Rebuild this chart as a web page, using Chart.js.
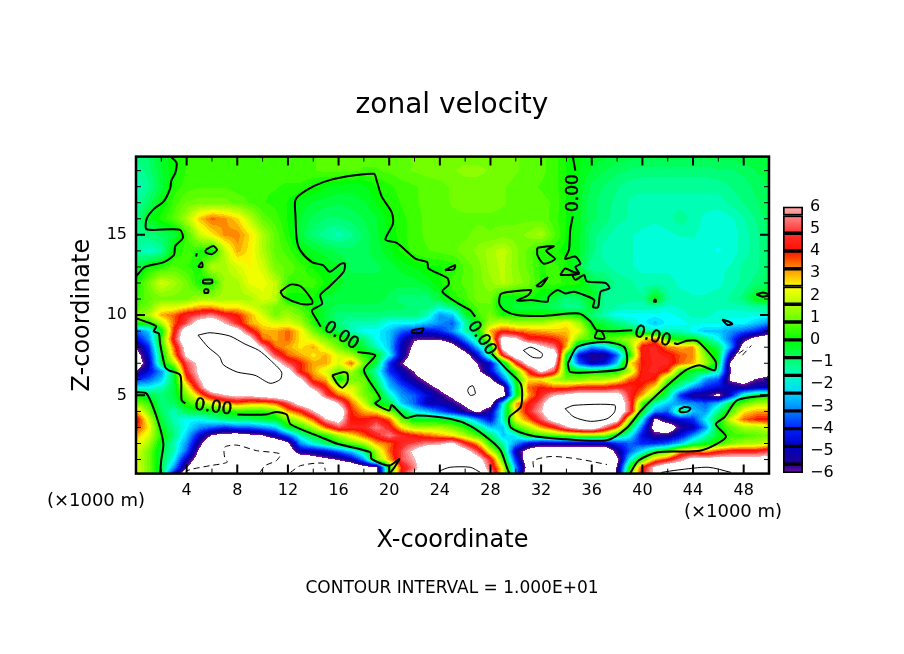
<!DOCTYPE html>
<html>
<head>
<meta charset="utf-8">
<title>zonal velocity</title>
<script src="https://cdn.jsdelivr.net/npm/chart.js@4/dist/chart.umd.min.js"></script>
<style>
  html, body { margin: 0; background: #fff; }
  #wrap { position: relative; width: 904px; height: 654px; overflow: hidden; }
  canvas { position: absolute; display: block; }
</style>
</head>
<body>
<div id="wrap">
  <canvas id="mainChart" width="904" height="654" style="left:0;top:0"></canvas>
  <canvas id="barChart" width="66" height="300" style="left:775px;top:190px"></canvas>
</div>
<script>
// tick labels and levels
const xTicks = [2,4,6,8,10,12,14,16,18,20,22,24,26,28,30,32,34,36,38,40,42,44,46,48];
const zTicks = [1,2,3,4,5,6,7,8,9,10,11,12,13,14,15,16,17,18,19];
const barTicks = [-6,-5,-4,-3,-2,-1,0,1,2,3,4,5,6];
const barLevels = [-6,-5.6,-4.8,-4,-3.2,-2.4,-1.6,-0.8,0,0.8,1.6,2.4,3.2,4,4.8,5.6,6];

// field: x = 0..50 every 1, z listed in zLevels
const zLevels = [0,.5,1,1.5,2,2.5,3,3.5,4,4.5,5,5.5,6,6.5,7,7.5,8,8.5,9,9.5,10,10.5,11,12,13,14,15,16,17,18,19,20];
const fieldRows = [
[2,1,-.5,-5,-8,-8,-8,-8,-8,-8, -8,-8,-8,-8,-8,-8,-8,-8,-8,-6.5, 0,4.5,6.5,8,8,8,8,8,6.5,2, -3,-8,-8,-8,-8,-8,-8,-8,-6,1, 4.5,6.5,8,8,8,8,8,8,8,8, 8],
[2,1,-.5,-3,-6,-8,-8,-8,-8,-8, -8,-8,-8,-8,-8,-8,-8,-8,-7,-6.5, 0,4,5.5,8,8,8,8,8,5,2, -3,-7,-8,-8,-8,-8,-8,-8,-6,0, 4,6.5,8,8,8,8,8,8,8,8, 8],
[2,1,-.5,-2,-5,-7,-8,-8,-8,-8, -8,-8,-8,-8,-7,-6.5,-6,-5,-3,1, 3,5,6,8,8,8,8,7,4.5,.5, -4,-7.5,-8,-8,-8,-8,-8,-8,-6.5,-2, .5,3,4,5.5,7,7,7,7,7,7, 7],
[2,1,-.5,-1.5,-3.5,-6.5,-8,-8,-8,-8, -8,-8,-7.5,-5,-5,-4.5,-3.5,-2.5,-1,1.5, 3.5,5,6.5,8,8,8,7,5,2,-.5, -5,-7,-8,-8,-8,-8,-8,-8,-5.5,-3.5, -2,-.3,.5,3,3.5,3,4,4.5,4.5,4.5, 5],
[2.5,1.5,-.3,-1.5,-3,-5.5,-8,-8,-8,-8, -8,-8,-6.5,-3,-1.8,-.8,0,.8,1.5,3, 3.5,4.5,5,5.5,5.8,6.5,4.5,3,.2,-1.5, -3,-4.5,-5,-5,-5,-5,-5,-5,-4,-3.5, -4,-4,-3.5,-2.5,-1,-.3,.3,1,1.5,1.5, 2],
[3,2,.2,-1,-2.5,-4.5,-6.2,-6.8,-7,-6.5, -6.2,-5,-3.5,-1.5,-.3,.2,1.5,2.5,3.5,4.5, 5.5,4.5,4,3.5,3,2.5,1.5,.5,-.8,-2.5, -2,0,.3,.7,1,1.2,1.2,1.2,-.5,-2, -4.5,-5.5,-5.5,-4.5,-3,-1.5,-.3,.5,.5,.8, 1],
[4,2.5,-.3,-1.2,-2,-3,-3.5,-4,-3.5,-3.5, -3,-2.5,-.3,.3,1.5,3.5,5,4.5,4.5,5.5, 4.5,2.5,1.5,1.5,1.5,1,.3,-1,-2.5,-2.5, .5,1.5,3,4,5.8,7,7.5,5.5,3.5,-.3, -3.5,-7,-7.5,-5.5,-5,-3,0,.7,1.5,1.5, 2],
[4.5,2,-.5,-1.5,-2,-2,-1.5,-1,-.8,-.8, -.5,-.3,1,2,3.5,6,7,4,4,4.5, 3.5,.8,-.2,-.2,-.3,-.5,-1.5,-3,-4.5,-1.5, 2,3.5,5,7,8,8,8,8,7,1.5, -2,-6.5,-5,-4.5,-4,-2,-.3,2,3.5,4, 4],
[3,1,-.8,-1.5,-.6,-.4,-.2,0,.3,.3, .3,.8,3,4,6,8,8,4,3,2.5, 1,-.5,-2,-2.5,-3.5,-4.5,-5.5,-6.5,-5,-1.5, 2.5,4.5,6,8,8,8,8,8,8,5, 0,-3,-3.5,-.5,-2.5,-3,-1,.5,2.5,3, 3],
[1,.5,-1,-.8,.3,1,2,3,3.5,3, 3,3.5,5,7,8,8,6,3.5,2,-.2, -.5,-2.5,-3.5,-5,-5,-5.5,-6.5,-7.5,-7,-2, 3,4,5.5,8,8,8,8,8,8,5, .5,-1.5,-2.5,-3,-3,-3.5,-2.5,-.3,.8,1.5, 1.5],
[.1,-.5,-1,-.5,1,3,5,6,6.5,6.5, 7,7.5,8,8,8,5,3.5,2.5,1,.5, -1.5,-3,-3.5,-4.5,-5.5,-6.5,-8,-8,-8,-7, -.5,3,4.5,6,6.5,7,7,7,7,4.5, 3,1,-1,-4,-5.5,-5.5,-6.5,-4.5,-1.5,-.3, 0],
[-2,-2,-1.5,-.5,2,5,8,8,8,8, 8,8,8,8,5.5,4,2,2,1,-.3, -2.5,-3.5,-4.5,-5.5,-6.5,-8,-8,-8,-8,-6.5, -.5,3.5,4,3.5,3.5,4,4,4,4.5,4.5, 3.8,2.5,-.3,-1.5,-3,-4,-4.5,-5,-5.5,-5, -5],
[-4,-3.5,-2.5,-.5,3.5,6,8,8,8,8, 8,8,8,6.5,3.5,3,-.2,1,1,-1, -3,-4.5,-5.5,-6.5,-8,-8,-8,-8,-6.5,-3.5, -.1,2.5,2.5,1.5,1,1,1.5,1.5,2,3.5, 4.3,4,1,-.4,-1,-3,-3.5,-6.5,-7,-6, -5.5],
[-6,-4.5,-3,-.5,4.5,6.5,8,8,8,8, 8,8,7,4,3,2,1,1.5,0,-1.5, -4,-5,-6.2,-8,-8,-8,-8,-6.5,-4.5,-2, .8,4,6.5,5,.3,-.1,-.1,-.1,-.1,1.5, 4.3,4.5,3.8,.5,-.5,-.5,-1.5,-6.2,-8,-8, -7],
[-7.5,-5,-.5,1.5,5,6.5,8,8,8,8, 8,7,5,4,3,3,2,3.5,1,-.5, -4,-6,-7.5,-8,-8,-8,-8,-6,-4.5,-1, 4,7,8,7,-.3,-3.5,-5,-4.5,-2.5,2.5, 4,4.5,4.5,3.5,3,1.5,-.5,-6.5,-8,-8, -8],
[-7,-4.5,-.5,3,6.5,8,8,8,8,8, 7.5,5,3.5,3,2.5,3,2,1.5,.3,-.2, -2,-5,-7,-8,-8,-8,-7,-4.5,-.8,4.5, 7.5,8,8,8,0,-4.5,-5.5,-5.5,-3.5,0, 4.2,4.5,4.3,3.6,3.2,1,-.3,-5,-8,-8, -8],
[-6,-4,0,3.5,7,8,8,8,8,8, 6,3.5,3,2.5,3,2,1,.2,-.5,-1.5, -2.5,-5,-6.5,-8,-8,-7,-5,-2.5,-.5,7, 8,8,6.5,5.5,3,-1.5,-3,-2.5,-1,1, 4.2,4.5,3.3,3,3.2,.2,-.7,-3,-7,-8, -8],
[-4.5,-3,.3,4.5,8,8,8,8,8,7, 3.5,3,3.5,2.5,2,1,.5,-.3,-1,-2, -2.5,-4.5,-6,-6,-6,-5,-3,-1,2,7, 6.5,4.5,4.3,4,3.2,1,.5,.5,1,1.5, 2.5,3.5,.5,-.1,-.1,-1,-2,-3.5,-5.5,-7, -7.5],
[-3.5,-2.5,-.3,4,7.5,8,8,8,7,4.5, 3,3,3.5,2.5,1,0,-.6,-1.5,-2,-2, -2.5,-3.5,-4,-4.5,-4,-3,-1.5,-.2,3,4, 3.5,3.2,3,2.8,2.8,2.2,.3,-.1,-.3,-.3, -1,-1.5,-1.5,-1.5,-2,-2.5,-2.5,-3,-3.5,-4, -5],
[.3,.1,1.5,3.5,5,7,7.5,6,4.5,3, 2.5,2,2,1.5,.3,-.5,-1,-1.5,-1.5,-1.5, -2,-2,-2,-2.5,-3,-3.5,-1.5,0,1.5,2, 1.5,1.5,1.5,2,2.5,1.5,-.2,-.5,-1,-1.5, -2,-2.5,-2,-2,-1.8,-1.8,-1.8,-2,-2,-2.5, -3],
[1,1.5,3,3.5,4.5,5,5.5,4.5,4,3, 2,1,1.5,1,.1,-.5,-1,-1,-1,-1, -1,-1,-1,-1.5,-3,-2.5,-.5,.5,1,.2, .1,.1,.1,.1,.1,0,-1,-1.5,-2,-2, -2,-2,-2,-1.8,-1.5,-1.5,-1.8,-1.8,-1.8,-1.8, -1.8],
[.6,1,2,2,2.5,3,3,2.5,2.5,2, 1.5,1,1,.5,.1,-.5,-.7,-.7,-.7,-.7, -.8,-.8,-1,-1,-1.5,-1,.1,.7,.8,-.2, -.5,-.5,-.5,-.8,-1.2,-1.2,-.3,-1.2,-1.4,-1.5, -1.5,-1.5,-1.7,-1.6,-1.4,-1.4,-1.5,-1.5,-1.5,-1.3, -1.2],
[.3,.8,1,1,1,1.5,1.5,1.5,1.5,1.5, 2,1.8,-.1,-.1,.1,-.5,-.5,-.5,-.5,-.5, -.7,-1,-1,-1,-.5,.2,.5,1,1,-.3, -.2,.2,-.2,-.5,-1,-.8,-.2,-1.3,-1.3,-1.3, -1.3,0,-1.3,-1.5,-1.6,-1.6,-1.5,-1.3,-1,-.1, -.1],
[.1,1,2,1.5,1,.1,.1,1.5,1.5,2.2, 2.3,1.8,.5,.5,.5,.1,-.3,-.5,-.5,-.5, -.5,-.5,-.5,-.3,.1,.5,.7,1,1.3,1.7, 1.3,1,.3,.5,.3,.2,-.5,-.8,-1.2,-1.3, -1.5,-1.5,-1.5,-1.7,-1.7,-1.7,-1.7,-1.5,-1.3,-1, -.7],
[-.7,.1,.3,.7,.4,.2,1.7,1.5,2,2.4, 2,1,.8,.5,.1,-.2,-.3,-.7,-.7,-.7, -.5,-.3,-.1,.1,.1,.2,.7,1,1.5,1.7, 1.2,.8,.3,.5,.2,-.5,-1.3,-1.3,-1.5,-1.6, -1.7,-1.7,-1.7,-1.7,-1.7,-1.7,-1.7,-1.6,-1.3,-1.2, -.8],
[-1.3,-1.7,-1.3,.1,.5,.3,-.1,1.7,3,2.5, 1.6,.8,.5,0,-.3,-.5,-.7,-.8,-.7,-.5, -.2,.2,.5,.6,.7,.8,1,1.2,1.5,1.8, 1.2,.8,.2,.2,0,-.3,-1,-1.5,-1.6,-1.6, -1.7,-1.8,-1.8,-1.8,-1.7,-1.8,-1.9,-1.8,-1.5,-1.2, -.8],
[-1.2,-1,-.8,-.5,.5,1.8,2.5,3.2,3.3,2.6, 1.6,.8,.2,-.5,-1,-1.3,-1.5,-1.2,-.8,-.4, -.1,.3,.5,.7,.8,.8,.8,1,.9,1, 1,1.2,1.5,.7,.1,-.3,-1,-1.3,-1.5,-1.6, -1.7,-1.7,-1.7,-1.6,-1.6,-1.7,-1.8,-1.8,-1.5,-1.2, -.8],
[-1.2,-.2,.2,.7,1.5,2.8,3.5,3.2,2.7,1.7, .8,.5,.1,-.4,-.7,-.9,-.9,-.8,-.6,-.4, 0,.3,.5,.7,.8,.8,.8,.8,.8,.8, .8,.8,.8,.5,.1,-.3,-.8,-1,-1.3,-1.4, -1.5,-1.6,-1.5,-1.2,-1.5,-1.7,-1.8,-1.7,-1.4,-1.1, -.7],
[-1.4,-.8,-.1,.5,.9,1,1,1,.8,.6, .4,.3,.1,-.2,-.4,-.5,-.6,-.5,-.4,-.1, .2,.4,.6,.7,.8,.9,1,1,1,.9, .8,.7,.7,.6,.1,-.3,-.8,-1,-1.2,-1.4, -1.5,-1.5,-1.5,-1.5,-1.5,-1.5,-1.5,-1.3,-1.1,-.9, -.6],
[-1.6,-1.2,-.5,.2,.5,.6,.6,.6,.5,.5, .4,.4,.3,.3,.1,-.1,-.2,-.3,-.2,.1, .3,.5,.6,.7,.8,.9,1,1,1,.9, .8,.7,.6,.5,.1,-.2,-.7,-.9,-1.1,-1.3, -1.3,-1.3,-1.3,-1.3,-1.3,-1.3,-1.3,-1.1,-1,-.8, -.6],
[-1.3,-1,-.4,0,.4,.5,.5,.5,.5,.5, .5,.5,.6,.6,.6,.7,.7,.7,.6,.6, .7,.8,.9,1,1,1.1,1.2,1.2,1.1,1, .9,.8,.7,.5,.1,-.1,-.4,-.6,-.8,-.9, -1,-1,-1,-1,-1,-1,-.9,-.9,-.8,-.6, -.5],
[-1,-.8,-.3,.1,.4,.5,.5,.5,.5,.5, .5,.6,.6,.6,.6,.7,.7,.7,.7,.7, .8,.8,.9,.9,1,1,1,1,1,1, .9,.8,.7,.5,.1,-.1,-.2,-.3,-.4,-.5, -.5,-.5,-.5,-.5,-.5,-.5,-.5,-.5,-.4,-.4, -.3]
];

// contour lines as [x, z] in axis units
const zeroContours = [
[[2.7,19.9],[3.2,19.5],[3.1,18.85],[2.8,18.4],[2.7,17.9],[2.2,17.1],[1.4,16.6],[.84,16],[.84,15.35],[2.7,15.35],[3.5,15.3],[3.7,14.8],[3.1,14.3],[3,13.75],[2.2,13.3],[.7,13],[0,12.4]],
[[17.5,7.7],[18.9,7.5],[18,6.56],[19.3,4.8],[18.9,4.5],[20,4.06],[20.2,4.4],[21.3,3.6],[22.2,3.75],[24.8,3.54],[26.4,3.1],[28,2.2],[28.8,1.56],[29.3,.5],[29.5,.1]],
[[14.6,9.27],[14.2,9.8],[13.9,10.3],[14.7,10.7],[14.55,11.25],[15.3,11.8],[16.4,12.7],[16.5,13.2],[16.2,13.2],[15.3,12.7],[14.8,13.1],[13.9,13.3],[13,14],[12.7,14.7],[12.6,16.15],[12.6,17.2],[13.5,17.8],[14.85,18.3],[16.7,18.65],[18.8,18.8],[19,18.4],[19.4,17.4],[20.2,16.4],[20.3,15.7],[19.7,14.7],[20.6,14.5],[22.1,13.5],[23,13.3],[23.1,12.9],[24.6,12.3],[24.7,11.9],[24.2,11.46],[25.5,10.7],[26.4,10.3],[26.8,9.9]],
[[28.1,7.6],[29.3,6.6],[30.4,5.7],[30.4,4.3],[29.5,3.65],[29.6,3],[31.2,2.5],[33.3,2.3],[37.2,2.2],[38.8,3],[39.9,4.06],[41.8,5.5],[43.4,6.56],[44.5,6.87],[45.7,6.56],[45.8,7.08],[45.1,7.8],[44.3,8.4],[43.5,8.4],[42.8,8.2],[42.5,8.25]],
[[39.2,9.06],[37.8,9],[36.4,9.06],[35.9,9.6],[35,10.1],[32.2,9.95],[30.1,10],[29.1,10.3],[28.7,10.7],[28.8,11.3],[29.6,11.46],[31.2,11.56],[31,11.25],[30.1,10.9],[31.2,10.94],[32.5,10.83],[32.6,11.15],[33.3,11.56],[33.9,11.35],[34.6,11.46],[35.4,11.25],[36.2,10.94],[36.1,10.5],[36.5,10.5],[36.7,11.46],[37.4,11.67],[37.1,12],[35.6,12.1],[35.4,12.5],[34.7,12.2],[34.5,12.5],[35,12.6],[34.7,13],[35.1,13.2],[34.7,13.65],[33.9,13.5],[34.2,14.06],[34.3,15.3],[34.5,16.15]],
[[34.7,19],[34.5,19.9]],
[[0,9.8],[1.1,9.5],[1.6,9.3],[1.4,9],[1.8,8.85],[1.9,8.23],[2.3,6.77],[2.6,6.56],[3.5,6.25],[3.6,4.7],[3.9,4.5]],
[[8,3.8],[10.2,3.8],[11.1,3.96],[11.9,3.8],[12.2,3.2],[14.6,2.4],[15.9,1.98],[18.5,1.46],[18.6,1.04],[20,.62],[20.8,1.04],[20.4,.5],[20,.1]],
[[0,5.2],[.84,5.1],[1.63,3.65],[2.16,2],[2,1],[1.9,.1]],
[[50,5],[47.5,4.7],[46.5,3.65],[45.8,3.2],[46.6,2.4],[44.6,1.56],[41.2,1.46],[39.7,.94],[39,.1]],
[[34.1,6.98],[34.86,8.02],[36.97,8.33],[38.55,8.02],[38.8,7.2],[38.55,6.67],[36.45,6.46],[34.3,6.46],[34.1,6.98]],
[[15.5,6.25],[16.4,6.46],[16.7,6.35],[16.7,5.83],[16.3,5.48],[15.9,5.73],[15.5,6.25]],
[[36.45,9.06],[36.25,8.6],[37,8.54],[36.8,8.96],[36.45,9.06]],
[[42.9,4.12],[43.3,4.27],[43.8,4.2],[43.6,4],[43,3.96],[42.9,4.12]],
[[46.3,9.73],[46.8,9.6],[47.1,9.44],[46.7,9.4],[46.3,9.73]],
[[21.8,9.06],[22.7,9.17],[22.5,8.9],[21.8,8.9],[21.8,9.06]],
[[31.7,14.2],[33,14.3],[32.4,14],[33.1,13.5],[32.2,13.2],[31.7,13.75],[31.7,14.2]],
[[31.6,11.8],[32.5,12.35],[32,11.8],[31.6,11.8]],
[[33.5,12.5],[33.9,12.9],[34.5,12.7],[35,12.6],[34.2,12.5],[33.5,12.5]],
[[24.4,12.8],[25.2,13.1],[25.1,12.85],[24.4,12.8]],
[[41,11],[41.1,10.85],[40.9,10.85],[41,11]],
[[49,11.3],[49.6,11.4],[50,11.25],[49.5,11.15],[49,11.3]],
[[11.4,11.46],[12.2,11.9],[13,11.8],[13.9,10.94],[13.9,10.7],[13,10.7],[11.65,11.15],[11.4,11.46]],
[[5.5,14.06],[6.1,14.3],[6.4,14.06],[6,13.8],[5.5,13.9],[5.5,14.06]],
[[4.8,13.85],[4.75,13.65]],
[[4.9,13],[5.2,13.3],[5.25,13],[4.9,13]],
[[5.3,12.2],[6,12.2],[6,12],[5.3,12],[5.3,12.2]],
[[5.4,11.6],[5.7,11.6],[5.7,11.4],[5.4,11.4],[5.4,11.6]]
];
const highContours = [
[[4.9,8.75],[5.85,8.9],[7.4,8.7],[8.6,8.2],[9.7,7.8],[10.6,7.2],[11.5,6.45],[11.4,6],[10.6,5.75],[9.4,6.25],[8,6.45],[6.9,6.9],[6.6,7.4],[5.7,8],[4.9,8.75]],
[[24,.3],[24.8,.52],[26.4,.52],[27.2,.2]],
[[41.5,.2],[42.8,.35],[45.2,.52],[47,.2]],
[[33.9,4.17],[34.6,4.38],[37.8,4.4],[37.8,3.96],[37.2,3.54],[35.9,3.38],[34.6,3.65],[33.9,4.17]],
[[30.6,7.8],[31.2,8],[32.1,7.6],[32,7.35],[31.3,7.38],[30.6,7.8]],
[[26.3,5.5],[26.6,5.6],[26.8,5.1],[26.4,5],[26.2,5.3],[26.3,5.5]]
];
const lowContours = [
[[9.8,.2],[10.2,.62],[11.1,.94],[11.4,1.35],[9.5,1.56],[7.96,1.9],[7,1.77],[7,1.15],[7.2,.83],[5.85,.62],[4.5,.42],[4,.3]],
[[12.2,.2],[13,.62],[14.8,.77],[14.95,.3]],
[[31.4,.52],[31.4,.94],[32.8,1.19],[34.9,1.04],[37.2,.69]],
[[47.6,7.6],[48.3,8]],
[[47.9,7.5],[48.6,8.1]]
];
const contourLabels = [
  { text: '0.00', x: 6.1, z: 4.25, angle: 8 },
  { text: '0.00', x: 16.2, z: 8.7, angle: 33 },
  { text: '0.00', x: 34.55, z: 17.6, angle: -90 },
  { text: '0.00', x: 27.3, z: 8.55, angle: 56 },
  { text: '0.00', x: 40.8, z: 8.65, angle: 17 }
];

// colour table: value, r, g, b
const colorStops = [
[-6,112,16,160],[-5.6,32,0,144],[-4.8,0,0,192],[-4,0,32,255],[-3.2,0,128,255],[-2,0,255,255],[-1.6,0,255,192],[-.8,0,255,96],[0,0,255,0],
[.8,96,255,0],[1.6,176,255,0],[2.4,255,255,0],[3.2,255,144,0],[4,255,16,0],[4.8,255,48,48],[5,255,80,80],[6,255,176,176]
];

function colorAt(v) {
  if (v > 6.01 || v < -6.01) return [255, 255, 255];
  for (let i = 1; i < colorStops.length; i++) {
    const a = colorStops[i - 1], b = colorStops[i];
    if (v <= b[0]) {
      const t = Math.max(0, (v - a[0]) / (b[0] - a[0]));
      return [a[1] + t * (b[1] - a[1]), a[2] + t * (b[2] - a[2]), a[3] + t * (b[3] - a[3])];
    }
  }
  return colorStops[colorStops.length - 1].slice(1);
}
function cssColor(v) {
  const c = colorAt(v);
  return 'rgb(' + Math.round(c[0]) + ',' + Math.round(c[1]) + ',' + Math.round(c[2]) + ')';
}
// field value at a position, shaded between the grid values
function fieldAt(x, z) {
  const i = Math.min(49, Math.max(0, Math.floor(x)));
  let j = 0;
  while (j < zLevels.length - 2 && zLevels[j + 1] <= z) j++;
  const tx = x - i, tz = (z - zLevels[j]) / (zLevels[j + 1] - zLevels[j]);
  const low = fieldRows[j][i] * (1 - tx) + fieldRows[j][i + 1] * tx;
  const high = fieldRows[j + 1][i] * (1 - tx) + fieldRows[j + 1][i + 1] * tx;
  return low * (1 - tz) + high * tz;
}

const fieldPlugin = {
  id: 'fieldPlugin',
  beforeDatasetsDraw(chart) {
    const { ctx, chartArea: area, scales } = chart;
    const left = Math.round(area.left), top = Math.round(area.top);
    const w = Math.round(area.right) - left, h = Math.round(area.bottom) - top;
    const img = ctx.createImageData(w, h);
    for (let py = 0; py < h; py++) {
      const z = scales.y.getValueForPixel(top + py + 0.5);
      for (let px = 0; px < w; px++) {
        const x = scales.x.getValueForPixel(left + px + 0.5);
        const c = colorAt(Math.round(fieldAt(x, z) * 4) / 4);
        const k = (py * w + px) * 4;
        img.data[k] = c[0]; img.data[k + 1] = c[1]; img.data[k + 2] = c[2]; img.data[k + 3] = 255;
      }
    }
    ctx.putImageData(img, left, top);
  }
};

const framePlugin = {
  id: 'framePlugin',
  afterDatasetsDraw(chart) {
    const { ctx, chartArea: area, scales } = chart;
    ctx.save();
    ctx.strokeStyle = '#000';
    // ticks point inward on all four sides
    scales.x.ticks.forEach(t => {
      const px = scales.x.getPixelForValue(t.value);
      const len = t.value % 4 === 0 ? 9 : 5;
      ctx.lineWidth = t.value % 4 === 0 ? 2 : 1;
      ctx.beginPath();
      ctx.moveTo(px, area.bottom); ctx.lineTo(px, area.bottom - len);
      ctx.moveTo(px, area.top); ctx.lineTo(px, area.top + len);
      ctx.stroke();
    });
    scales.y.ticks.forEach(t => {
      const py = scales.y.getPixelForValue(t.value);
      const len = t.value % 5 === 0 ? 9 : 5;
      ctx.lineWidth = t.value % 5 === 0 ? 2 : 1;
      ctx.beginPath();
      ctx.moveTo(area.left, py); ctx.lineTo(area.left + len, py);
      ctx.moveTo(area.right, py); ctx.lineTo(area.right - len, py);
      ctx.stroke();
    });
    ctx.lineWidth = 2.5;
    ctx.strokeRect(area.left, area.top, area.right - area.left, area.bottom - area.top);

    // contour labels
    ctx.fillStyle = '#000';
    ctx.font = '17px "DejaVu Sans"';
    ctx.lineWidth = 0.5;
    ctx.textAlign = 'center';
    ctx.textBaseline = 'middle';
    contourLabels.forEach(l => {
      ctx.save();
      ctx.translate(scales.x.getPixelForValue(l.x), scales.y.getPixelForValue(l.z));
      ctx.rotate(l.angle * Math.PI / 180);
      ctx.fillText(l.text, 0, 0);
      ctx.strokeText(l.text, 0, 0);
      ctx.restore();
    });

    // axis units
    ctx.font = '18px "DejaVu Sans"';
    ctx.fillText('(×1000 m)', 96, 501);
    ctx.fillText('(×1000 m)', 733, 512);
    ctx.restore();
  }
};

function lineSet(points, width, dash) {
  return {
    data: points.map(p => ({ x: p[0], y: p[1] })),
    showLine: true, borderColor: '#000', borderWidth: width, borderDash: dash,
    pointRadius: 0, tension: 0.25, fill: false
  };
}

new Chart(document.getElementById('mainChart'), {
  type: 'scatter',
  data: {
    datasets: zeroContours.map(c => lineSet(c, 2, []))
      .concat(highContours.map(c => lineSet(c, 1, [])))
      .concat(lowContours.map(c => lineSet(c, 1, [6, 4])))
  },
  options: {
    responsive: false,
    animation: false,
    devicePixelRatio: 1,
    plugins: {
      legend: { display: false },
      tooltip: { enabled: false },
      title: {
        display: true, text: 'zonal velocity', color: '#000',
        font: { family: 'DejaVu Sans', size: 28, weight: 'normal', lineHeight: 1.2 },
        padding: { top: 89, bottom: 34 }
      },
      subtitle: {
        display: true, position: 'bottom', text: 'CONTOUR INTERVAL = 1.000E+01', color: '#000',
        font: { family: 'DejaVu Sans', size: 17, weight: 'normal', lineHeight: 1.2 },
        padding: { top: 2, bottom: 55 }
      }
    },
    scales: {
      x: {
        type: 'linear', min: 0, max: 50,
        afterBuildTicks: s => { s.ticks = xTicks.map(value => ({ value })); },
        afterFit: s => { s.height = 103; },
        grid: { display: false, drawTicks: false },
        border: { display: false },
        ticks: {
          color: '#000', padding: 8, autoSkip: false, maxRotation: 0,
          font: { family: 'DejaVu Sans', size: 16 },
          callback: v => (v % 4 === 0 ? String(v) : '')
        },
        title: {
          display: true, text: 'X-coordinate', color: '#000',
          font: { family: 'DejaVu Sans', size: 24 }, padding: { top: 0, bottom: 21 }
        }
      },
      y: {
        type: 'linear', min: 0.125, max: 19.875,
        afterBuildTicks: s => { s.ticks = zTicks.map(value => ({ value })); },
        afterFit: s => { s.width = 136; },
        grid: { display: false, drawTicks: false },
        border: { display: false },
        ticks: {
          color: '#000', padding: 9, autoSkip: false,
          font: { family: 'DejaVu Sans', size: 16 },
          callback: v => (v % 5 === 0 ? String(v) : '')
        },
        title: {
          display: true, text: 'Z-coordinate', color: '#000',
          font: { family: 'DejaVu Sans', size: 24 }, padding: { top: 68, bottom: 0 }
        }
      },
      // empty axis, keeps the page-wide title centred and leaves room for the bar
      side: {
        type: 'linear', position: 'right',
        afterFit: s => { s.width = 135; },
        grid: { display: false, drawTicks: false },
        border: { display: false },
        ticks: { display: false }
      }
    }
  },
  plugins: [fieldPlugin, framePlugin]
});

// colour bar
const barSets = barLevels.slice(1).map((hi, i) => {
  const lo = barLevels[i];
  return {
    data: [[lo, hi]],
    borderColor: '#000', borderWidth: 2, borderSkipped: false,
    barPercentage: 1, categoryPercentage: 1, grouped: false,
    backgroundColor(c) {
      const sc = c.chart.scales.y;
      const y0 = sc ? sc.getPixelForValue(lo) : NaN;
      const y1 = sc ? sc.getPixelForValue(hi) : NaN;
      if (!isFinite(y0) || !isFinite(y1)) return cssColor((lo + hi) / 2);
      const g = c.chart.ctx.createLinearGradient(0, y0, 0, y1);
      g.addColorStop(0, cssColor(lo));
      g.addColorStop(1, cssColor(hi));
      return g;
    }
  };
});

new Chart(document.getElementById('barChart'), {
  type: 'bar',
  data: { labels: [''], datasets: barSets },
  options: {
    responsive: false,
    animation: false,
    devicePixelRatio: 1,
    layout: { padding: { left: 8, right: 0, top: 12, bottom: 17 } },
    plugins: { legend: { display: false }, tooltip: { enabled: false } },
    scales: {
      x: { display: false, stacked: false },
      y: {
        type: 'linear', position: 'right', min: -6, max: 6,
        afterBuildTicks: s => { s.ticks = barTicks.map(value => ({ value })); },
        afterFit: s => { s.width = 38; },
        grid: { display: false, drawTicks: false },
        border: { display: false },
        ticks: {
          color: '#000', padding: 7, autoSkip: false,
          font: { family: 'DejaVu Sans', size: 16 },
          callback: v => String(v).replace('-', '\u2212')
        }
      }
    }
  }
});
</script>
</body>
</html>
